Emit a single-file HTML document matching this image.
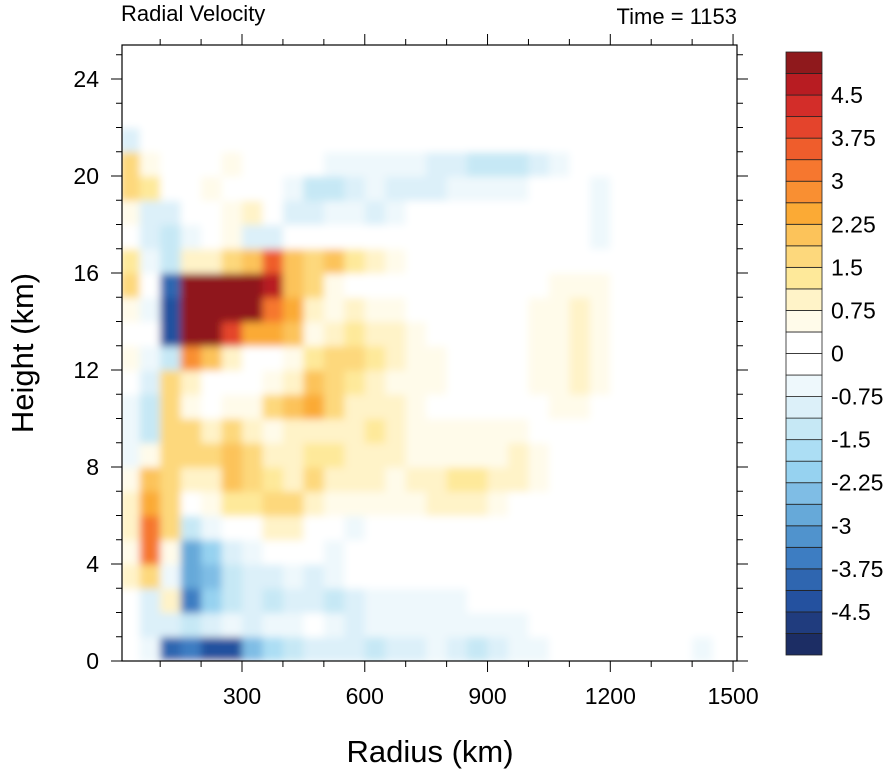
<!DOCTYPE html>
<html><head><meta charset="utf-8">
<style>
html,body{margin:0;padding:0;background:#fff;}
svg text{font-family:"Liberation Sans",Arial,sans-serif;fill:#000;}
</style></head>
<body>
<svg id="chart" width="895" height="774" viewBox="0 0 895 774" xmlns="http://www.w3.org/2000/svg">
<defs>
<clipPath id="plotclip"><rect x="122" y="45" width="615" height="616"/></clipPath>
<filter id="soft" x="-5%" y="-5%" width="110%" height="110%"><feGaussianBlur stdDeviation="4"/></filter>
</defs>
<g id="field" clip-path="url(#plotclip)"></g>
<rect x="122" y="45" width="615" height="616" fill="none" stroke="#000" stroke-width="1.2"/>
<g id="axes"></g>
<text x="121" y="21" font-size="22">Radial Velocity</text>
<text x="737" y="24" font-size="22" text-anchor="end">Time = 1153</text>
<text x="430" y="762" font-size="31" text-anchor="middle">Radius (km)</text>
<text transform="translate(33,353) rotate(-90)" font-size="31" text-anchor="middle">Height (km)</text>
<g id="colorbar"></g>
</svg>
<script>
// grid: columns of 50 km radius, rows of 1 km height, rows listed bottom (h=0) to top
const radiusBins = [0,50,100,150,200,250,300,350,400,450,500,550,600,650,700,750,800,850,900,950,1000,1050,1100,1150,1200,1250,1300,1350,1400,1450,1500];
const heightBins = [0,1,2,3,4,5,6,7,8,9,10,11,12,13,14,15,16,17,18,19,20,21,22,23,24,25];
const velRows = [
[-0.2,-0.5,-4,-3.5,-4.5,-4.5,-2.5,-1.8,-1.5,-1,-1,-0.8,-1.2,-1,-0.8,-0.6,-0.8,-1.2,-0.8,-0.6,-0.4,-0.2,-0.3,-0.3,-0.2,0,0,-0.3,-0.6,0,0],
[0,-1,-1,-1.5,-0.8,-0.5,-0.8,-0.5,-0.5,-0.3,-0.5,-0.8,-0.6,-0.6,-0.5,-0.6,-0.5,-0.7,-0.6,-0.4,-0.3,-0.2,-0.2,-0.2,-0.2,0,0,-0.3,0,0,0],
[0.3,-1,0.8,-3.5,-2,-1.5,-1,-1.2,-0.8,-0.8,-1.2,-1,-0.6,-0.5,-0.4,-0.4,-0.5,-0.3,-0.3,-0.2,0,0,0,0,0,0,0,0,0,0,0],
[0.8,1.5,-0.5,-3,-2.5,-1.5,-0.8,-1,-0.5,-0.8,-0.5,-0.3,-0.3,-0.2,-0.2,-0.2,-0.2,-0.2,-0.2,0,0,0,0,0,0,0,0,0,0,0,0],
[0.5,3,0.5,-3,-2,-1,-0.5,0,0.2,-0.3,-0.5,-0.3,0,0,0,0,0,0,0,0,0,0,0,0,0,0,0,0,0,0,0],
[0.8,3,1.5,-1.5,-0.5,0.3,0.3,0.8,0.8,0.3,0,-0.5,0,0,0,0,0,0,0,0,0,0,0,0,0,0,0,0,0,0,0],
[1,2.5,1.8,0.3,0.5,1.2,1.2,1.5,1.5,1,0.4,0.6,0.7,0.5,0.6,0.8,0.9,0.8,0.5,0.3,0.2,0,0,0,0,0,0,0,0,0,0],
[0.5,2,1.8,1,1,2.2,1.8,1.2,1,1.5,1,1,1,0.6,0.8,1,1.2,1.3,1,0.8,0.6,0.2,0,0,0,0,0,0,0,0,0],
[-0.5,0.5,1.8,1.8,1.5,2,1.5,0.8,1,1.2,1.2,1,0.8,0.8,0.6,0.6,0.6,0.6,0.6,0.8,0.6,0.2,0,0,0,0,0,0,0,0,0],
[-0.5,-1.5,1.8,1.5,1,1.5,1,0.5,0.8,1,0.8,1,1.2,0.8,0.6,0.5,0.5,0.4,0.4,0.4,0.3,0,0,0,0,0,0,0,0,0,0],
[-0.5,-1.5,1.8,0.5,0.3,0.5,0.5,1.5,2.2,2.5,1.5,1,0.8,0.8,0.6,0.3,0,0,0,0,0.3,0.5,0.6,0.3,0,0,0,0,0,0,0],
[0.3,-1,1.8,1,0,0,0.3,0.5,1,2,1.8,1.2,0.8,0.6,0.5,0.4,0.2,0,0,0,0.5,0.6,0.8,0.4,0,0,0,0,0,0,0],
[0.5,-0.5,-1.5,2.8,2.2,1,0.3,0.2,0.5,1.2,1.5,1.5,1.2,0.8,0.6,0.4,0.2,0,0,0,0.4,0.6,0.8,0.5,0,0,0,0,0,0,0],
[0.3,-0.3,-4.5,5.5,5,4,2.5,2.5,2,0.5,1,1.2,1,0.8,0.5,0.3,0,0,0,0,0.4,0.6,0.9,0.6,0,0,0,0,0,0,0],
[0.5,-0.5,-4.5,5.5,5.5,5.5,5,3,2.5,1,0.5,0.8,0.6,0.4,0.2,0,0,0,0,0,0.4,0.6,0.9,0.7,0.3,0,0,0,0,0,0],
[1.5,0.3,-4,5.5,5.5,5.5,5.5,4.5,2,1.5,0.5,0.2,0.3,0.3,0,0,0,0,0,0,0.3,0.5,0.6,0.5,0.3,0,0,0,0,0,0],
[1.2,-0.5,-1.5,0.8,1,1.5,2,3.5,2,1.8,2,1.2,0.8,0.5,0.2,0,0,0,0.2,0.2,0,0,0,0,0,0,0,0,0,0,0],
[0.3,-1,-1.2,-0.5,0.3,0.5,-1,-0.8,-0.3,0,0.3,0,0,0,0,0,0,0,0,0,0,0,0,-0.4,0,0,0,0,0,0,0],
[0.5,-0.8,-0.8,0.3,0.2,0.4,0.8,0.2,-0.8,-1,-0.5,-0.6,-0.8,-0.5,-0.3,0,0,0,0,0,0,0,0,-0.6,-0.3,0,0,0,0,0,0],
[1.5,1.2,0.3,0.3,0.5,0.3,0.2,0.3,-0.5,-1.2,-1.3,-0.8,-0.5,-0.8,-1,-0.9,-0.6,-0.6,-0.5,-0.4,-0.2,0,0,-0.5,0,0,0,0,0,0,0],
[1.5,0.5,0.2,0.3,0.3,0.4,0.3,0,0,0,-0.7,-0.6,-0.5,-0.6,-0.7,-0.8,-0.9,-1.4,-1.5,-1.3,-1,-0.6,0,0,0,0,0,0,-0.3,-0.3,0],
[-1,0.3,0.3,0.2,0,0,0,0,0,0,0,0,0,0,0,0,0,0,0,0,0,0,0,0,0,0,0,0,0,0,0],
[0,0,0,0,0,0,0,0,0,0,0,0,0,0,0,0,0,0,0,0,0,0,0,0,0,0,0,0,0,0,0],
[0,0,0,0,0,0,0,0,0,0,0,0,0,0,0,0,0,0,0,0,0,0,0,0,0,0,0,0,0,0,0],
[0,0,0,0,0,0,0,0,0,0,0,0,0,0,0,0,0,0,0,0,0,0,0,0,0,0,0,0,0,0,0]
];
const xTickValues = [300,600,900,1200,1500];
const yTickValues = [0,4,8,12,16,20,24];
const cbLabels = ["-4.5","-3.75","-3","-2.25","-1.5","-0.75","0","0.75","1.5","2.25","3","3.75","4.5"];
const levelStart = -4.875, levelStep = 0.375, levelCount = 27;
const palette = ["#1c2d64","#203c7e","#24519f","#2f66b0","#3d7dc2","#5093cd","#66a9d9","#7fbde5","#96d2f0","#acdef4","#c6e8f5","#dcf0f9","#eef8fc","#ffffff",
"#ffffff","#fffbea","#fff3c8","#fee99a","#fdd87c","#fcc35a","#fbaa35","#f98f32","#f6772f","#ef5d2c","#e4442c","#d32d29","#b81c22","#8f191c"];

const NS="http://www.w3.org/2000/svg";
const xS = r => 119.25 + r*0.4092;
const yS = h => 661 - h*24.25;
function colorFor(v){let k=0;for(let i=0;i<levelCount;i++){if(v>=levelStart+i*levelStep)k=i+1;}return palette[k];}
function mk(tag,attrs,parent){const e=document.createElementNS(NS,tag);for(const a in attrs)e.setAttribute(a,attrs[a]);parent.appendChild(e);return e;}

const field=document.getElementById('field');
const inner=mk('g',{filter:'url(#soft)'},field);
mk('rect',{x:100,y:20,width:660,height:660,fill:'#fff'},inner);
velRows.forEach((row,ri)=>{
  row.forEach((v,ci)=>{
    const x0=xS(radiusBins[ci]), x1=xS(radiusBins[ci]+50);
    const y0=yS(heightBins[ri]+1), y1=yS(heightBins[ri]);
    const r=mk('rect',{x:x0,y:y0,width:x1-x0+0.6,height:y1-y0+0.6,fill:colorFor(v)},inner);
    
    
  });
});

const axes=document.getElementById('axes');
for(let r=100;r<=1500;r+=100){
  const major=xTickValues.includes(r);
  const x=xS(r), L=major?11:6;
  const t=mk('line',{x1:x,y1:661,x2:x,y2:661+L,stroke:'#000','stroke-width':1},axes);
  
  
  mk('line',{x1:x,y1:45,x2:x,y2:45-L,stroke:'#000','stroke-width':1},axes);
}
xTickValues.forEach(v=>{
  const t=mk('text',{x:xS(v),y:704,'font-size':23,'text-anchor':'middle'},axes);
  t.textContent=v;
  
  
});
for(let h=0;h<=25;h++){
  const major=yTickValues.includes(h);
  const y=yS(h), L=major?11:6;
  const t=mk('line',{x1:122,y1:y,x2:122-L,y2:y,stroke:'#000','stroke-width':1},axes);
  
  
  mk('line',{x1:737,y1:y,x2:737+L,y2:y,stroke:'#000','stroke-width':1},axes);
}
yTickValues.forEach(v=>{
  const t=mk('text',{x:99,y:yS(v)+8,'font-size':23,'text-anchor':'end'},axes);
  t.textContent=v;
  
  
});

const cb=document.getElementById('colorbar');
const cbTop=52, cbBot=655, boxH=(cbBot-cbTop)/palette.length;
palette.forEach((c,i)=>{
  const r=mk('rect',{x:786,y:cbBot-(i+1)*boxH,width:36,height:boxH,fill:c,stroke:'#222','stroke-width':0.8},cb);
  
  
});
cbLabels.forEach((lab,j)=>{
  const k=1+2*j;
  const y=cbBot-(k+1)*boxH;
  const t=mk('text',{x:831,y:y+8,'font-size':23},cb);
  t.textContent=lab;
  
  
});
</script>
</body></html>
